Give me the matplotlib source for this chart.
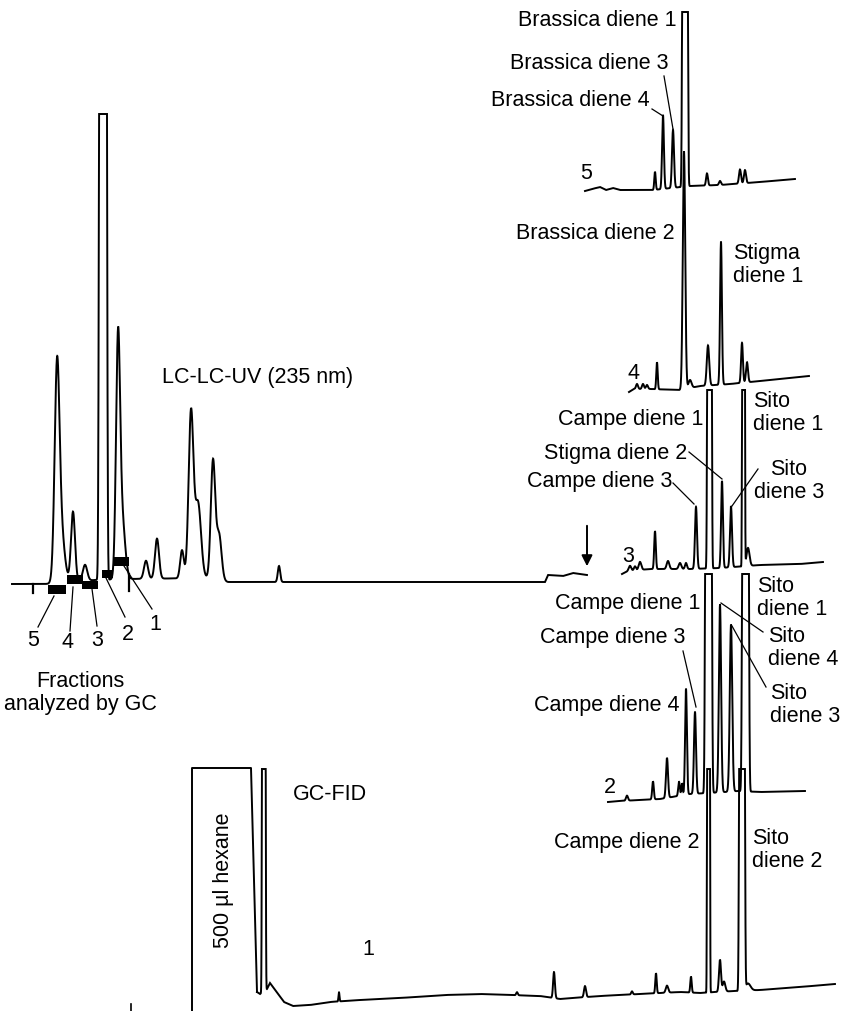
import numpy as np
import matplotlib.pyplot as plt

plt.rcParams['font.family'] = ['Liberation Sans', 'DejaVu Sans']

# page is laid out in pixel units (y grows downward), like the scanned figure

# LC-LC-UV trace
lc_base_x = [12, 45, 95, 128, 205, 228, 400, 545, 548, 563, 573, 587]
lc_base_y = [585, 585, 581, 580, 579, 583, 583, 583, 576, 577, 574, 576]
lc_peak_x = [57, 61, 73, 85, 118, 122, 146, 157, 182, 191, 198, 213, 219, 279]
lc_peak_h = [200, 50, 70, 16, 227, 60, 18, 40, 28, 165, 75, 118, 46, 16]
lc_peak_w = [2.4, 3.5, 2.0, 2.2, 2.0, 3.0, 2.0, 2.0, 1.8, 2.4, 3.0, 2.2, 2.5, 1.2]
lc_top_x = [103]
lc_top_w = [3.1]
lc_top = 115

# fractions cut from the LC run
frac_names = ['5', '4', '3', '2', '1']
frac_start = [48, 67, 82, 102, 113]
frac_end = [66, 83, 98, 113, 129]
frac_level = [590.5, 580.5, 586, 575, 562.5]

# GC-FID traces of fractions 5..2
t5_base_x = [585, 592, 600, 606, 613, 620, 653, 690, 720, 760, 795]
t5_base_y = [192, 190, 188, 191, 189, 191, 191, 187, 186, 183, 180]
t5_peak_x = [655, 663, 673, 707, 720, 740, 745]
t5_peak_h = [18, 74, 58, 12, 4, 14, 13]
t5_peak_w = [0.7, 0.9, 1.0, 0.9, 1.0, 1.0, 1.0]
t5_top_x = [685]
t5_top_w = [2.3]
t5_top = 13

t4_base_x = [629, 634, 650, 680, 700, 730, 760, 790, 809]
t4_base_y = [393, 390, 390, 391, 387, 385, 382, 379, 377]
t4_peak_x = [637, 643, 647, 657, 684, 690, 708, 721, 742, 747]
t4_peak_h = [5, 5, 4, 27, 238, 8, 40, 143, 40, 20]
t4_peak_w = [1.0, 1.0, 1.0, 0.7, 1.2, 1.5, 1.2, 0.9, 0.9, 1.0]

t3_base_x = [622, 628, 650, 690, 720, 760, 800, 823]
t3_base_y = [575, 572, 570, 570, 569, 566, 565, 563]
t3_peak_x = [630, 635, 640, 655, 668, 680, 686, 696, 722, 731, 748]
t3_peak_h = [5, 4, 8, 38, 8, 6, 6, 62, 87, 61, 18]
t3_peak_w = [1.2, 1.0, 1.3, 0.8, 1.3, 1.3, 1.0, 1.0, 0.9, 1.0, 1.5]
t3_top_x = [709.5, 743.5]
t3_top_w = [1.9, 1.2]
t3_top = 391

t2_base_x = [608, 620, 640, 660, 690, 725, 738, 760, 805]
t2_base_y = [803, 802, 801, 800, 795, 793, 792, 793, 792]
t2_peak_x = [627, 653, 667, 679, 682, 686, 695, 720, 731]
t2_peak_h = [5, 18, 40, 14, 12, 106, 82, 188, 167]
t2_peak_w = [1.0, 0.8, 1.0, 0.8, 0.7, 0.9, 1.0, 1.1, 1.2]
t2_top_x = [708.5, 745.5]
t2_top_w = [2.7, 2.7]
t2_top = 575

# fraction 1 (with solvent plug)
hexane_x = [192, 192, 251, 257]
hexane_y = [1012, 769, 769, 993]
t1_base_x = [257, 260, 267, 270, 276, 284, 293, 310, 330, 360, 400, 430, 445, 480,
             540, 560, 600, 640, 680, 700, 715, 735, 760, 800, 835]
t1_base_y = [993, 995, 990, 984, 992, 1003, 1007, 1006, 1003, 1001, 999, 997, 996, 995,
             997, 1000, 997, 995, 993, 994, 993, 992, 991, 988, 985]
t1_peak_x = [339, 517, 554, 585, 632, 656, 667, 691, 720, 724, 748]
t1_peak_h = [9, 3, 26, 11, 3, 20, 7, 16, 32, 10, 7]
t1_peak_w = [0.5, 0.8, 0.9, 1.0, 0.8, 0.7, 1.2, 0.7, 1.0, 1.3, 2.5]
t1_top_x = [263.8, 708.5, 742]
t1_top_w = [1.5, 1.2, 2.3]
t1_top = 770

# peak labels: (x, y, text, alignment)
labels = [
    (676, 20, 'Brassica diene 1', 'right'),
    (668, 63, 'Brassica diene 3', 'right'),
    (650, 100, 'Brassica diene 4', 'right'),
    (675, 233, 'Brassica diene 2', 'right'),
    (733, 265, 'Stigma\ndiene 1', 'left'),
    (703, 420, 'Campe diene 1', 'right'),
    (753, 413, 'Sito\ndiene 1', 'left'),
    (687, 453, 'Stigma diene 2', 'right'),
    (672, 482, 'Campe diene 3', 'right'),
    (789, 481, 'Sito\ndiene 3', 'center'),
    (700, 603, 'Campe diene 1', 'right'),
    (757, 598, 'Sito\ndiene 1', 'left'),
    (685, 638, 'Campe diene 3', 'right'),
    (768, 648, 'Sito\ndiene 4', 'left'),
    (680, 705, 'Campe diene 4', 'right'),
    (770, 705, 'Sito\ndiene 3', 'left'),
    (700, 843, 'Campe diene 2', 'right'),
    (752, 850, 'Sito\ndiene 2', 'left'),
]
leaders = [
    ((652, 110), (663, 117)),
    ((664, 77), (673, 130)),
    ((689, 453), (722, 480)),
    ((673, 484), (694, 505)),
    ((758, 470), (732, 507)),
    ((683, 652), (696, 708)),
    ((763, 633), (721, 604)),
    ((766, 688), (732, 627)),
]
trace_names = [('5', 586, 173), ('4', 633, 373), ('3', 628, 557), ('2', 610, 788), ('1', 368, 950)]
frac_label_pos = [(33, 640), (68, 643), (97, 640), (128, 635), (155, 625)]
frac_leader_from = [(54, 597), (73, 588), (92, 590), (106, 579), (124, 567)]
frac_leader_to = [(38, 628), (70, 632), (97, 627), (125, 618), (152, 610)]


def chromatogram(base_x, base_y, peak_x, peak_h, peak_w, top_x=(), top_w=(), top=None):
    t = np.arange(base_x[0], base_x[-1], 0.05)
    base = np.interp(t, base_x, base_y)
    sig = np.zeros_like(t)
    for c, h, w in zip(peak_x, peak_h, peak_w):
        sig += h * np.exp(-0.5 * ((t - c) / w) ** 2)
    # off-scale peaks: flat topped, pen stops at the top
    for c, w in zip(top_x, top_w):
        H = 4 * (np.interp(c, base_x, base_y) - top)
        sig += H * np.exp(-0.5 * ((t - c) / w) ** 4)
    y = base - sig
    if top is not None:
        y = np.maximum(y, top)
    return t, y


fig = plt.figure(figsize=(8.46, 10.12), dpi=100)
ax = fig.add_axes([0, 0, 1, 1])
ax.set_xlim(0, 846)
ax.set_ylim(1012, 0)
ax.axis('off')

lw = 1.4
fs = 15.5
traces = [
    (lc_base_x, lc_base_y, lc_peak_x, lc_peak_h, lc_peak_w, lc_top_x, lc_top_w, lc_top),
    (t5_base_x, t5_base_y, t5_peak_x, t5_peak_h, t5_peak_w, t5_top_x, t5_top_w, t5_top),
    (t4_base_x, t4_base_y, t4_peak_x, t4_peak_h, t4_peak_w, (), (), None),
    (t3_base_x, t3_base_y, t3_peak_x, t3_peak_h, t3_peak_w, t3_top_x, t3_top_w, t3_top),
    (t2_base_x, t2_base_y, t2_peak_x, t2_peak_h, t2_peak_w, t2_top_x, t2_top_w, t2_top),
    (t1_base_x, t1_base_y, t1_peak_x, t1_peak_h, t1_peak_w, t1_top_x, t1_top_w, t1_top),
]
for tr in traces:
    x, y = chromatogram(*tr)
    ax.plot(x, y, color='black', lw=lw, solid_joinstyle='miter')
ax.plot(hexane_x, hexane_y, color='black', lw=lw)

# small marks on the LC baseline and below the GC plug
ax.plot([33, 33], [585, 594], color='black', lw=1.6)
ax.plot([129, 129], [575, 592], color='black', lw=1.6)
ax.plot([131, 131], [1005, 1012], color='black', lw=1.2)

# fraction bars
for s, e, lev in zip(frac_start, frac_end, frac_level):
    ax.barh(lev, e - s, left=s, height=8.5, color='black')
for (name, (lx, ly), p0, p1) in zip(frac_names, frac_label_pos, frac_leader_from, frac_leader_to):
    ax.plot([p0[0], p1[0]], [p0[1], p1[1]], color='black', lw=0.9)
    ax.text(lx, ly, name, fontsize=fs, ha='center', va='center')

ax.text(80, 693, 'Fractions\nanalyzed by GC', fontsize=fs, ha='center', va='center',
        linespacing=1.15)

# arrow marking end of transfer
ax.annotate('', xy=(587, 570), xytext=(587, 524),
            arrowprops=dict(arrowstyle='-|>', color='black', lw=1.4, mutation_scale=16))

for x, y, s, ha in labels:
    ax.text(x, y, s, fontsize=fs, ha=ha, va='center', linespacing=1.12,
            multialignment='left' if ha != 'center' else 'center')
for (x0, y0), (x1, y1) in leaders:
    ax.plot([x0, x1], [y0, y1], color='black', lw=0.9)
for s, x, y in trace_names:
    ax.text(x, y, s, fontsize=fs, ha='center', va='center')

ax.text(162, 377, 'LC-LC-UV (235 nm)', fontsize=fs, ha='left', va='center')
ax.text(293, 795, 'GC-FID', fontsize=fs, ha='left', va='center')
ax.text(223, 880, '500 µl hexane', fontsize=fs, ha='center', va='center', rotation=90)

fig.savefig('out.png', dpi=100)
